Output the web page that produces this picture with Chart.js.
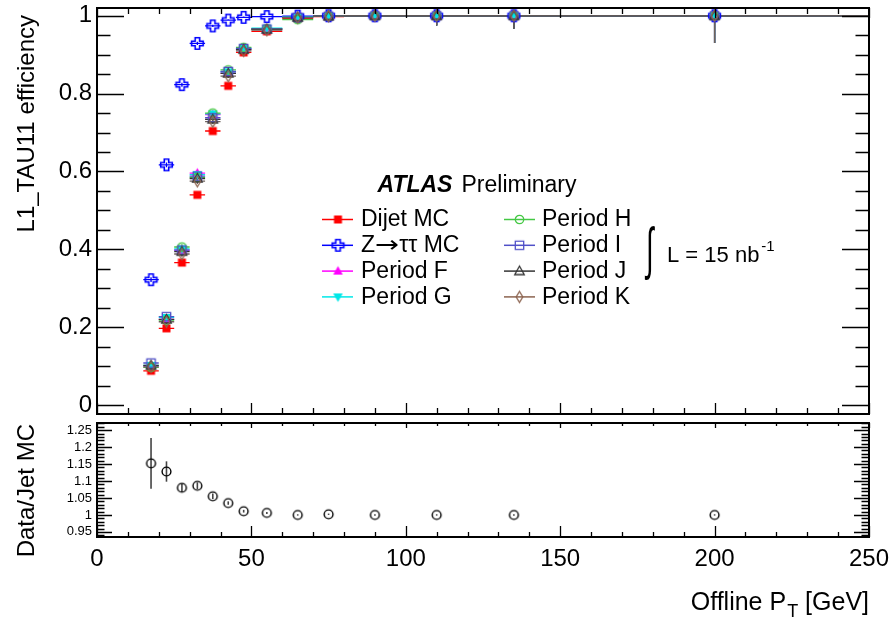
<!DOCTYPE html>
<html><head><meta charset="utf-8">
<script src="https://cdn.jsdelivr.net/npm/chart.js@4.4.1/dist/chart.umd.min.js"></script>
<style>
html,body{margin:0;padding:0;background:#fff;}
#wrap{position:relative;width:894px;height:621px;overflow:hidden;background:#fff;}
#top{position:absolute;left:0;top:0;width:894px;height:420px;}
#bot{position:absolute;left:0;top:417px;width:894px;height:204px;}
</style></head><body>
<div id="wrap"><canvas id="top" width="894" height="420"></canvas><canvas id="bot" width="894" height="204"></canvas></div>
<script>
// ---------------- data ----------------
const ptCenters     = [17.5, 22.5, 27.5, 32.5, 37.5, 42.5, 47.5, 55, 65, 75, 90, 110, 135, 200];
const binHalfWidths = [2.5, 2.5, 2.5, 2.5, 2.5, 2.5, 2.5, 5, 5, 5, 10, 10, 15, 50];

const dijetMC   = [0.088, 0.197, 0.366, 0.540, 0.704, 0.820, 0.906, 0.960, 0.993, 0.998, 1, 1, 1, 1];
const ztautauMC = [0.322, 0.617, 0.823, 0.929, 0.974, 0.989, 0.996, 0.998, 0.999, 1, 1, 1, 1, 1];
const periodF   = [0.100, 0.220, 0.398, 0.596, 0.746, 0.853, 0.914, 0.966, 0.996, 0.999, 1, 1, 1, 1];
const periodG   = [0.102, 0.225, 0.401, 0.592, 0.748, 0.856, 0.916, 0.968, 0.997, 0.999, 1, 1, 1, 1];
const periodH   = [0.097, 0.218, 0.406, 0.585, 0.750, 0.861, 0.919, 0.967, 0.990, 0.999, 1, 1, 1, 1];
const periodI   = [0.108, 0.227, 0.398, 0.588, 0.738, 0.857, 0.916, 0.966, 0.996, 0.999, 1, 1, 1, 1];
const periodJ   = [0.102, 0.220, 0.394, 0.582, 0.734, 0.852, 0.913, 0.965, 0.996, 0.999, 1, 1, 1, 1];
const periodK   = [0.098, 0.214, 0.388, 0.575, 0.728, 0.845, 0.910, 0.963, 0.995, 0.999, 1, 1, 1, 1];

const dijetErr  = [0.004, 0.005, 0.006, 0.006, 0.006, 0.005, 0.004, 0.003, 0.002, 0.001, 0, 0, 0, 0];
const ztautauErr= [0.006, 0.006, 0.005, 0.004, 0.003, 0.002, 0.002, 0.001, 0.001, 0, 0, 0, 0, 0];
const periodErr = [0.005, 0.006, 0.007, 0.007, 0.006, 0.005, 0.004, 0.004, 0.003, 0.004, 0.006, 0.025, 0.033, 0.07];

const ratioDataJetMC = [1.152, 1.128, 1.080, 1.086, 1.055, 1.035, 1.011, 1.006, 1.000, 1.002, 1.000, 1.000, 1.000, 1.000];
const ratioErr       = [0.075, 0.030, 0.012, 0.010, 0.008, 0.005, 0.004, 0.003, 0.002, 0.002, 0.002, 0.002, 0.002, 0.002];

const seriesLabels = ['Dijet MC', 'Z\u2192\u03C4\u03C4 MC', 'Period F', 'Period G', 'Period H', 'Period I', 'Period J', 'Period K'];
const effTicks   = [0, 0.2, 0.4, 0.6, 0.8, 1];
const ratioTicks = [0.95, 1, 1.05, 1.1, 1.15, 1.2, 1.25];
const ptTicks    = [0, 50, 100, 150, 200, 250];

// ---------------- styles ----------------
const FONT = "'Liberation Sans', Arial, Helvetica, sans-serif";
Chart.defaults.font.family = FONT;
Chart.defaults.color = '#000';

const seriesStyle = [
  {color:'#ff0000', marker:'fsquare'},
  {color:'#0000ff', marker:'ocross'},
  {color:'#ff00ff', marker:'ftriup'},
  {color:'#00e8e8', marker:'ftridown'},
  {color:'#44c844', marker:'ocircle'},
  {color:'#5050c8', marker:'osquare'},
  {color:'#333333', marker:'otriup'},
  {color:'#8c6450', marker:'odiamond'}
];

function makeMarker(kind, color) {
  const S = 15;
  const c = document.createElement('canvas');
  c.width = S; c.height = S;
  const g = c.getContext('2d');
  const m = S / 2;
  g.strokeStyle = color; g.fillStyle = color; g.lineWidth = 1.3;
  g.beginPath();
  switch (kind) {
    case 'fsquare': g.rect(m-4, m-4, 8, 8); g.fill(); break;
    case 'ocross': {
      const a = 2.2, e = 5.8;
      g.moveTo(m-a, m-e); g.lineTo(m+a, m-e); g.lineTo(m+a, m-a); g.lineTo(m+e, m-a);
      g.lineTo(m+e, m+a); g.lineTo(m+a, m+a); g.lineTo(m+a, m+e); g.lineTo(m-a, m+e);
      g.lineTo(m-a, m+a); g.lineTo(m-e, m+a); g.lineTo(m-e, m-a); g.lineTo(m-a, m-a);
      g.closePath(); g.lineWidth = 1.6; g.stroke(); break;
    }
    case 'ftriup': g.moveTo(m, m-5); g.lineTo(m+4.8, m+3.5); g.lineTo(m-4.8, m+3.5); g.closePath(); g.fill(); break;
    case 'ftridown': g.moveTo(m, m+5); g.lineTo(m+4.8, m-3.5); g.lineTo(m-4.8, m-3.5); g.closePath(); g.fill(); break;
    case 'ocircle': g.arc(m, m, 4.2, 0, 2*Math.PI); g.stroke(); break;
    case 'osquare': g.rect(m-4.2, m-4.2, 8.4, 8.4); g.stroke(); break;
    case 'otriup': g.moveTo(m, m-5); g.lineTo(m+4.8, m+3.5); g.lineTo(m-4.8, m+3.5); g.closePath(); g.stroke(); break;
    case 'odiamond': g.moveTo(m, m-5.5); g.lineTo(m+3.3, m); g.lineTo(m, m+5.5); g.lineTo(m-3.3, m); g.closePath(); g.stroke(); break;
    case 'ratiocircle': g.arc(m, m, 4.4, 0, 2*Math.PI); g.lineWidth = 1.4; g.stroke(); break;
  }
  return c;
}

// ---------------- plugins ----------------
const errorBars = {
  id: 'errorBars',
  beforeDatasetsDraw(chart) {
    const {ctx, chartArea: a, scales: {x, y}} = chart;
    ctx.save();
    ctx.beginPath(); ctx.rect(a.left, a.top, a.right - a.left, a.bottom - a.top); ctx.clip();
    chart.data.datasets.forEach((ds) => {
      ctx.strokeStyle = ds.errColor || ds.borderColor;
      ctx.lineWidth = ds.errWidth || 1.3;
      ds.data.forEach((p, j) => {
        const px = x.getPixelForValue(p.x), py = y.getPixelForValue(p.y);
        ctx.beginPath();
        if (ds.xErr) {
          ctx.moveTo(x.getPixelForValue(p.x - ds.xErr[j]), py);
          ctx.lineTo(x.getPixelForValue(p.x + ds.xErr[j]), py);
        }
        if (ds.yErrLo) {
          ctx.moveTo(px, y.getPixelForValue(p.y - ds.yErrLo[j]));
          ctx.lineTo(px, y.getPixelForValue(p.y + ds.yErrHi[j]));
        }
        ctx.stroke();
      });
    });
    ctx.restore();
  }
};

function drawFrameTicks(chart, cfg) {
  const {ctx, chartArea: a, scales: {x, y}} = chart;
  ctx.save();
  ctx.strokeStyle = '#000';
  ctx.lineWidth = 1.3;
  ctx.beginPath();
  const xk0 = Math.ceil(x.min / cfg.xMinor - 1e-9), xk1 = Math.floor(x.max / cfg.xMinor + 1e-9);
  for (let k = xk0; k <= xk1; k++) {
    const v = +(k * cfg.xMinor).toFixed(6);
    const maj = cfg.xMajor.some(t => Math.abs(t - v) < 1e-6);
    const px = Math.round(x.getPixelForValue(v)) + 0.5;
    const lb = maj ? cfg.xMajB : cfg.xMinB, lt = maj ? cfg.xMajT : cfg.xMinT;
    ctx.moveTo(px, a.bottom); ctx.lineTo(px, a.bottom - lb);
    ctx.moveTo(px, a.top); ctx.lineTo(px, a.top + lt);
  }
  const yk0 = Math.ceil(y.min / cfg.yMinor - 1e-9), yk1 = Math.floor(y.max / cfg.yMinor + 1e-9);
  for (let k = yk0; k <= yk1; k++) {
    const v = +(k * cfg.yMinor).toFixed(6);
    const maj = cfg.yMajor.some(t => Math.abs(t - v) < 1e-6);
    const py = Math.round(y.getPixelForValue(v)) + 0.5;
    const l = maj ? cfg.yMaj : cfg.yMin;
    ctx.moveTo(a.left, py); ctx.lineTo(a.left + l, py);
    ctx.moveTo(a.right, py); ctx.lineTo(a.right - l, py);
  }
  ctx.stroke();
  ctx.lineWidth = 2;
  ctx.strokeRect(a.left, a.top, a.right - a.left, a.bottom - a.top);
  ctx.restore();
}

function rotatedTitle(ctx, text, cx, endY, size) {
  ctx.save();
  ctx.translate(cx, endY);
  ctx.rotate(-Math.PI / 2);
  ctx.font = size + 'px ' + FONT;
  ctx.fillStyle = '#000';
  ctx.textAlign = 'right';
  ctx.textBaseline = 'middle';
  ctx.fillText(text, 0, 0);
  ctx.restore();
}

// draws text, rendering arrows with DejaVu Sans for a wider glyph
function legendText(ctx, text, x, y) {
  let cx = x;
  const parts = text.split(/(\u2192)/);
  parts.forEach(p => {
    if (!p) return;
    if (p === '\u2192') {
      ctx.font = "23px 'DejaVu Sans', sans-serif";
      ctx.save(); ctx.translate(cx, y); ctx.scale(1.25, 1);
      ctx.fillText(p, 0, 0); const w = ctx.measureText(p).width * 1.25; ctx.restore();
      cx += w;
    } else {
      ctx.font = '23px ' + FONT;
      ctx.fillText(p, cx, y);
      cx += ctx.measureText(p).width;
    }
  });
}

const markerImgs = seriesStyle.map(s => makeMarker(s.marker, s.color));

const topDecor = {
  id: 'topDecor',
  afterDraw(chart) {
    drawFrameTicks(chart, {xMajor: ptTicks, xMinor: 10, xMajB: 11, xMinB: 6, xMajT: 10, xMinT: 6,
                           yMajor: effTicks, yMinor: 0.05, yMaj: 27, yMin: 13.5});
    const ctx = chart.ctx;
    rotatedTitle(ctx, 'L1_TAU11 efficiency', 27, 15, 24);
    ctx.save();
    ctx.fillStyle = '#000';
    ctx.textBaseline = 'alphabetic';
    ctx.textAlign = 'left';
    ctx.font = 'italic bold 23px ' + FONT;
    ctx.fillText('ATLAS', 377.5, 191.5);
    ctx.font = '23px ' + FONT;
    ctx.fillText('Preliminary', 461.5, 191.5);
    const cols = [{l0: 322, l1: 353, mx: 338, tx: 361}, {l0: 504, l1: 535, mx: 519.5, tx: 542}];
    ctx.textBaseline = 'middle';
    seriesLabels.forEach((lab, i) => {
      const c = cols[Math.floor(i / 4)];
      const ry = 219.5 + (i % 4) * 25.8;
      ctx.strokeStyle = seriesStyle[i].color;
      ctx.lineWidth = 1.5;
      ctx.beginPath(); ctx.moveTo(c.l0, ry); ctx.lineTo(c.l1, ry); ctx.stroke();
      const img = markerImgs[i];
      ctx.drawImage(img, c.mx - img.width / 2, ry - img.height / 2);
      ctx.fillStyle = '#000';
      legendText(ctx, lab, c.tx, ry + 0.5);
    });
    ctx.save();
    ctx.font = '30px ' + FONT;
    ctx.textAlign = 'center';
    ctx.textBaseline = 'middle';
    ctx.translate(650, 252);
    ctx.scale(0.9, 1.9);
    ctx.fillText('\u222B', 0, 0);
    ctx.restore();
    ctx.textBaseline = 'alphabetic';
    ctx.font = '22px ' + FONT;
    const lt = 'L = 15 nb';
    ctx.fillText(lt, 667, 261.5);
    const w = ctx.measureText(lt).width;
    ctx.font = '15px ' + FONT;
    ctx.fillText('-1', 667 + w + 2, 250.5);
    ctx.restore();
  }
};

const botDecor = {
  id: 'botDecor',
  afterDraw(chart) {
    drawFrameTicks(chart, {xMajor: ptTicks, xMinor: 10, xMajB: 11, xMinB: 5, xMajT: 5, xMinT: 3,
                           yMajor: ratioTicks, yMinor: 0.01, yMaj: 15, yMin: 7.5});
    const ctx = chart.ctx;
    rotatedTitle(ctx, 'Data/Jet MC', 27, 7, 24);
    ctx.save();
    ctx.fillStyle = '#000';
    ctx.textBaseline = 'alphabetic';
    ctx.textAlign = 'left';
    const big = '25px ' + FONT, small = '18px ' + FONT;
    ctx.font = big;
    const w1 = ctx.measureText('Offline P').width;
    const w3 = ctx.measureText(' [GeV]').width;
    ctx.font = small;
    const w2 = ctx.measureText('T').width;
    const x0 = 868 - (w1 + w2 + w3);
    const base = 609.5 - 417;
    ctx.font = big;
    ctx.fillText('Offline P', x0, base);
    ctx.font = small;
    ctx.fillText('T', x0 + w1 + 1, base + 7);
    ctx.font = big;
    ctx.fillText(' [GeV]', x0 + w1 + w2 + 1, base);
    ctx.restore();
  }
};

// ---------------- datasets ----------------
const effSeries = [dijetMC, ztautauMC, periodF, periodG, periodH, periodI, periodJ, periodK];
const effErrs   = [dijetErr, ztautauErr, periodErr, periodErr, periodErr, periodErr, periodErr, periodErr];

const topDatasets = effSeries.map((vals, i) => ({
  label: seriesLabels[i],
  data: ptCenters.map((x, j) => ({x, y: vals[j]})),
  xErr: binHalfWidths,
  yErrLo: effErrs[i],
  yErrHi: effErrs[i].map((e, j) => Math.min(e, 1 - vals[j])),
  borderColor: seriesStyle[i].color,
  backgroundColor: seriesStyle[i].color,
  errColor: i === 7 ? '#6e625c' : seriesStyle[i].color,
  pointStyle: markerImgs[i],
  pointRadius: 5,
  showLine: false,
  order: effSeries.length - i
}));

const fixTicks = (arr) => (s) => { s.ticks = arr.map(v => ({value: v})); };
const noPad = (s) => { s.paddingTop = 0; s.paddingBottom = 0; s.paddingLeft = 0; s.paddingRight = 0; };
const fmt = (v) => String(+(+v).toFixed(2));

new Chart(document.getElementById('top'), {
  type: 'scatter',
  data: {datasets: topDatasets},
  options: {
    responsive: false, animation: false, events: [],
    layout: {padding: {left: 0, top: 8, right: 25, bottom: 4}},
    plugins: {legend: {display: false}, tooltip: {enabled: false}},
    scales: {
      x: {type: 'linear', min: 0, max: 250, display: false},
      y: {type: 'linear', min: -0.023, max: 1.02,
          afterBuildTicks: fixTicks(effTicks),
          afterFit: (s) => { s.width = 97; noPad(s); },
          grid: {display: false, drawTicks: false}, border: {display: false},
          ticks: {font: {size: 24}, padding: 5, color: '#000', autoSkip: false, callback: fmt}}
    }
  },
  plugins: [errorBars, topDecor]
});

new Chart(document.getElementById('bot'), {
  type: 'scatter',
  data: {datasets: [{
    label: 'Data/Jet MC',
    data: ptCenters.map((x, j) => ({x, y: ratioDataJetMC[j]})),
    yErrLo: ratioErr, yErrHi: ratioErr,
    borderColor: '#000', backgroundColor: '#000', errColor: '#444', errWidth: 1.6,
    pointStyle: makeMarker('ratiocircle', '#000'), pointRadius: 5, showLine: false
  }]},
  options: {
    responsive: false, animation: false, events: [],
    layout: {padding: {left: 0, top: 6, right: 25, bottom: 0}},
    plugins: {legend: {display: false}, tooltip: {enabled: false}},
    scales: {
      x: {type: 'linear', min: 0, max: 250,
          afterBuildTicks: fixTicks(ptTicks),
          afterFit: (s) => { s.height = 84; noPad(s); },
          grid: {display: false, drawTicks: false}, border: {display: false},
          ticks: {font: {size: 24}, padding: 8, color: '#000', autoSkip: false, maxRotation: 0, callback: fmt}},
      y: {type: 'linear', min: 0.935, max: 1.271,
          afterBuildTicks: fixTicks(ratioTicks),
          afterFit: (s) => { s.width = 97; noPad(s); },
          grid: {display: false, drawTicks: false}, border: {display: false},
          ticks: {font: {size: 13}, padding: 5, color: '#000', autoSkip: false, callback: fmt}}
    }
  },
  plugins: [errorBars, botDecor]
});
</script>
</body></html>
